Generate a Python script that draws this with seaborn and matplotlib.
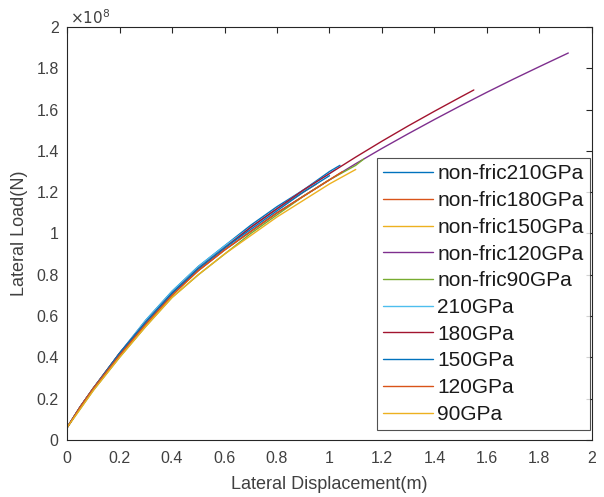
import seaborn as sns
import pandas as pd
import matplotlib.pyplot as plt

# series names in legend order
labels = ['non-fric210GPa', 'non-fric180GPa', 'non-fric150GPa', 'non-fric120GPa',
          'non-fric90GPa', '210GPa', '180GPa', '150GPa', '120GPa', '90GPa']
colors = ['#0072BD', '#D95319', '#EDB120', '#7E2F8E', '#77AC30',
          '#4DBEEE', '#A2142F', '#0072BD', '#D95319', '#EDB120']

# displacement (m) for each curve
x_nf210 = [0, 0.05, 0.1, 0.2, 0.3, 0.4, 0.5, 0.6, 0.7, 0.8, 0.9, 1.0, 1.04]
x_nf180 = [0, 0.05, 0.1, 0.2, 0.3, 0.4, 0.5, 0.6, 0.7, 0.8, 0.9, 0.95]
x_nf150 = [0, 0.05, 0.1, 0.2, 0.3, 0.4, 0.5, 0.6, 0.7, 0.8, 0.9, 1.0]
x_nf120 = [0, 0.05, 0.1, 0.2, 0.3, 0.4, 0.5, 0.6, 0.7, 0.8, 0.9, 1.0, 1.1,
           1.2, 1.3, 1.4, 1.5, 1.6, 1.7, 1.8, 1.91]
x_nf90 = [0, 0.05, 0.1, 0.2, 0.3, 0.4, 0.5, 0.6, 0.7, 0.8, 0.9, 1.0, 1.1, 1.13]
x_210 = [0, 0.05, 0.1, 0.2, 0.3, 0.4, 0.5, 0.6, 0.7, 0.8, 0.9, 1.0, 1.02]
x_180 = [0, 0.05, 0.1, 0.2, 0.3, 0.4, 0.5, 0.6, 0.7, 0.8, 0.9, 1.0, 1.1,
         1.2, 1.3, 1.4, 1.5, 1.55]
x_150 = [0, 0.05, 0.1, 0.2, 0.3, 0.4, 0.5, 0.6, 0.7, 0.8, 0.9, 1.0]
x_120 = [0, 0.05, 0.1, 0.2, 0.3, 0.4, 0.5, 0.6, 0.7, 0.8, 0.9, 1.0, 1.05]
x_90 = [0, 0.05, 0.1, 0.2, 0.3, 0.4, 0.5, 0.6, 0.7, 0.8, 0.9, 1.0, 1.1]

# lateral load in units of 1e8 N
y_nf210 = [0.06, 0.16, 0.25, 0.42, 0.58, 0.72, 0.84, 0.94, 1.04, 1.13, 1.21, 1.30, 1.33]
y_nf180 = [0.06, 0.16, 0.25, 0.42, 0.57, 0.71, 0.83, 0.93, 1.03, 1.12, 1.20, 1.24]
y_nf150 = [0.06, 0.16, 0.25, 0.41, 0.56, 0.70, 0.82, 0.92, 1.01, 1.10, 1.18, 1.26]
y_nf120 = [0.06, 0.16, 0.25, 0.41, 0.57, 0.71, 0.82, 0.92, 1.01, 1.10, 1.18, 1.26, 1.338,
           1.412, 1.483, 1.552, 1.619, 1.684, 1.747, 1.808, 1.874]
y_nf90 = [0.06, 0.15, 0.24, 0.40, 0.55, 0.69, 0.80, 0.90, 1.00, 1.09, 1.18, 1.26, 1.33, 1.36]
y_210 = [0.06, 0.16, 0.25, 0.42, 0.58, 0.72, 0.84, 0.94, 1.03, 1.12, 1.21, 1.29, 1.31]
y_180 = [0.06, 0.16, 0.25, 0.42, 0.57, 0.71, 0.83, 0.93, 1.03, 1.12, 1.21, 1.29, 1.37,
         1.447, 1.521, 1.592, 1.661, 1.695]
y_150 = [0.06, 0.16, 0.25, 0.42, 0.57, 0.71, 0.83, 0.93, 1.02, 1.11, 1.20, 1.28]
y_120 = [0.06, 0.16, 0.25, 0.41, 0.56, 0.70, 0.82, 0.92, 1.01, 1.10, 1.18, 1.26, 1.30]
y_90 = [0.06, 0.15, 0.24, 0.40, 0.55, 0.69, 0.80, 0.90, 0.99, 1.08, 1.16, 1.24, 1.31]

xs = [x_nf210, x_nf180, x_nf150, x_nf120, x_nf90, x_210, x_180, x_150, x_120, x_90]
ys = [y_nf210, y_nf180, y_nf150, y_nf120, y_nf90, y_210, y_180, y_150, y_120, y_90]

ticks = [0, 0.2, 0.4, 0.6, 0.8, 1, 1.2, 1.4, 1.6, 1.8, 2]
tick_labels = ['0', '0.2', '0.4', '0.6', '0.8', '1', '1.2', '1.4', '1.6', '1.8', '2']

# long-form table for seaborn
rows = []
for name, xv, yv in zip(labels, xs, ys):
    for a, b in zip(xv, yv):
        rows.append({'Series': name, 'Displacement': a, 'Load': b})
df = pd.DataFrame(rows)

sns.set_style('white')
plt.rcParams['font.family'] = ['Liberation Sans', 'DejaVu Sans']

fig = plt.figure(figsize=(6.04, 4.97), dpi=100)
ax = fig.add_axes([0.111, 0.1147, 0.869, 0.831])

for name, col in zip(labels, colors):
    sub = df[df['Series'] == name]
    sns.lineplot(data=sub, x='Displacement', y='Load', ax=ax, color=col,
                 linewidth=1.0, sort=False, estimator=None, label=name)

ax.set_xlim(0, 2)
ax.set_ylim(0, 2)
ax.set_xticks(ticks)
ax.set_xticklabels(tick_labels)
ax.set_yticks(ticks)
ax.set_yticklabels(tick_labels)

text_col = '#404040'
ax.tick_params(direction='in', length=4, width=0.8, top=True, right=True,
               labelsize=11.5, colors='#262626', labelcolor=text_col)
ax.tick_params(axis='x', pad=8)
ax.tick_params(axis='y', pad=6)
for s in ax.spines.values():
    s.set_visible(True)
    s.set_color('#262626')
    s.set_linewidth(0.8)

ax.set_xlabel('Lateral Displacement(m)', fontsize=13, color=text_col, labelpad=7)
ax.set_ylabel('Lateral Load(N)', fontsize=13, color=text_col, labelpad=6)
ax.text(0.005, 1.0, r'$\times10^{8}$', transform=ax.transAxes, fontsize=11,
        color=text_col, ha='left', va='bottom')

leg = ax.legend(loc='lower right', bbox_to_anchor=(0.996, 0.024), fontsize=15,
                frameon=True, fancybox=False, handlelength=2.4, handletextpad=0.2,
                labelspacing=0.37, borderpad=0.3, borderaxespad=0.0)
leg.get_frame().set_edgecolor('#262626')
leg.get_frame().set_linewidth(0.8)
for t in leg.get_texts():
    t.set_color('#1a1a1a')

fig.savefig('out.png', dpi=100)
